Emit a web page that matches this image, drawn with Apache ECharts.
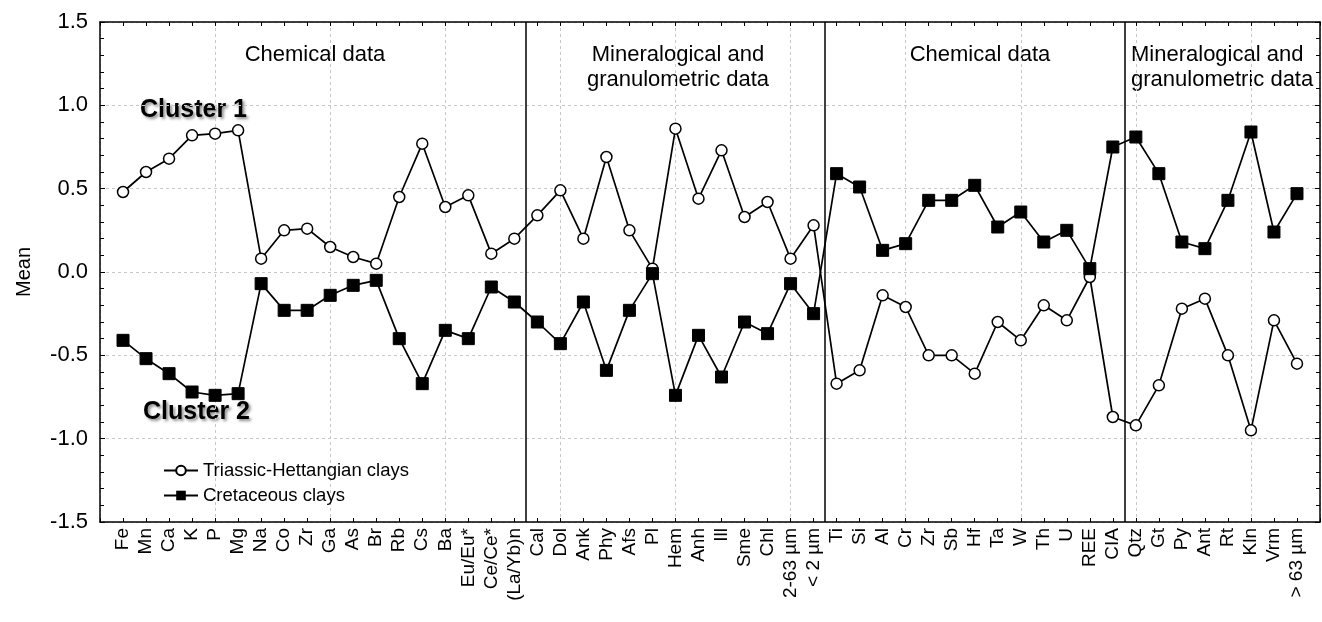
<!DOCTYPE html>
<html><head><meta charset="utf-8">
<script src="https://cdn.jsdelivr.net/npm/echarts@6/dist/echarts.min.js"></script>
<style>html,body{margin:0;padding:0;background:#fff}#c{width:1322px;height:622px}</style>
</head><body><div id="c"></div>
<script>
const categories = ['Fe','Mn','Ca','K','P','Mg','Na','Co','Zr','Ga','As','Br','Rb','Cs','Ba','Eu/Eu*','Ce/Ce*','(La/Yb)n',
  'Cal','Dol','Ank','Phy','Afs','Pl','Hem','Anh','Ill','Sme','Chl','2-63 µm','< 2 µm',
  'Ti','Si','Al','Cr','Zr','Sb','Hf','Ta','W','Th','U','REE','CIA',
  'Qtz','Gt','Py','Ant','Rt','Kln','Vrm','> 63 µm'];
const triassic = [0.48,0.60,0.68,0.82,0.83,0.85,0.08,0.25,0.26,0.15,0.09,0.05,0.45,0.77,0.39,0.46,0.11,0.20,
  0.34,0.49,0.20,0.69,0.25,0.02,0.86,0.44,0.73,0.33,0.42,0.08,0.28,
  -0.67,-0.59,-0.14,-0.21,-0.50,-0.50,-0.61,-0.30,-0.41,-0.20,-0.29,-0.03,-0.87,
  -0.92,-0.68,-0.22,-0.16,-0.50,-0.95,-0.29,-0.55];
const cretaceous = [-0.41,-0.52,-0.61,-0.72,-0.74,-0.73,-0.07,-0.23,-0.23,-0.14,-0.08,-0.05,-0.40,-0.67,-0.35,-0.40,-0.09,-0.18,
  -0.30,-0.43,-0.18,-0.59,-0.23,-0.01,-0.74,-0.38,-0.63,-0.30,-0.37,-0.07,-0.25,
  0.59,0.51,0.13,0.17,0.43,0.43,0.52,0.27,0.36,0.18,0.25,0.02,0.75,
  0.81,0.59,0.18,0.14,0.43,0.84,0.24,0.47];
const seriesNames = ['Triassic-Hettangian clays','Cretaceous clays'];
const yTicks = [-1.5,-1.0,-0.5,0.0,0.5,1.0,1.5];
const groupBounds = [18.5, 31.5, 44.5];
const groupTitles = ['Chemical data','Mineralogical and\ngranulometric data','Chemical data','Mineralogical and\ngranulometric data'];

const FONT = 'Arial, "Liberation Sans", sans-serif';
const chart = echarts.init(document.getElementById('c'), null, {renderer:'canvas'});
const pairs = arr => arr.map((v,i)=>[i+1, v]);
const xMax = categories.length + 1;

const gridLine = {show:true, lineStyle:{color:'#c8c8c8', type:[3,3], width:1}};
const blackLine = {show:true, onZero:false, lineStyle:{color:'#000', width:1.5}};
const titleStyle = {font:'22px '+FONT, fill:'#000', lineHeight:25, verticalAlign:'middle'};
const clusterStyle = {font:'bold 25px '+FONT, fill:'#000', verticalAlign:'middle',
  textShadowColor:'rgba(0,0,0,0.45)', textShadowBlur:3, textShadowOffsetX:2, textShadowOffsetY:2};

chart.setOption({
  animation:false,
  backgroundColor:'#fff',
  grid:{left:100, right:2, top:22, bottom:100},
  textStyle:{fontFamily:FONT},
  xAxis:[
    {type:'value', min:0, max:xMax, interval:1, position:'bottom', axisLine:blackLine,
     axisTick:{show:true, inside:true, length:4, lineStyle:{color:'#000'}},
     axisLabel:{show:true, rotate:90, margin:6, fontSize:19, color:'#000', fontFamily:FONT,
       padding:[6,0,0,0], formatter: v => categories[v-1] || ''},
     splitLine:{show:false}},
    {type:'value', min:0, max:xMax, interval:1, position:'top', axisLine:blackLine,
     axisTick:{show:true, inside:true, length:4, lineStyle:{color:'#000'}},
     axisLabel:{show:false}, splitLine:{show:false}},
    {type:'value', min:0, max:xMax, interval:5, position:'top', axisLine:{show:false},
     axisTick:{show:false}, axisLabel:{show:false}, splitLine:gridLine}
  ],
  yAxis:[
    {type:'value', min:yTicks[0], max:yTicks[yTicks.length-1], interval:0.5, position:'left',
     name:'Mean', nameLocation:'middle', nameGap:66, nameTextStyle:{fontSize:20, color:'#000', fontFamily:FONT},
     axisLine:blackLine, axisTick:{show:true, inside:true, length:5, lineStyle:{color:'#000'}},
     minorTick:{show:true, splitNumber:5, length:4, lineStyle:{color:'#000'}},
     axisLabel:{fontSize:22, color:'#000', margin:12, fontFamily:FONT, formatter: v => v.toFixed(1)},
     splitLine:gridLine},
    {type:'value', min:yTicks[0], max:yTicks[yTicks.length-1], interval:0.5, position:'right',
     axisLine:blackLine, axisTick:{show:true, inside:true, length:5, lineStyle:{color:'#000'}},
     minorTick:{show:true, splitNumber:5, length:4, lineStyle:{color:'#000'}},
     axisLabel:{show:false}, splitLine:{show:false}}
  ],
  legend:{
    orient:'vertical', left:158, top:456, itemWidth:34, itemHeight:12, itemGap:6,
    textStyle:{fontSize:18.5, color:'#000', fontFamily:FONT},
    data:seriesNames
  },
  series:[
    {name:seriesNames[0], type:'line', xAxisIndex:0, yAxisIndex:0, data:pairs(triassic),
     symbol:'circle', symbolSize:11, lineStyle:{color:'#000', width:1.7},
     itemStyle:{color:'#fff', borderColor:'#000', borderWidth:1.5}, z:3,
     markLine:{silent:true, symbol:'none', label:{show:false},
       lineStyle:{color:'#000', width:1.5, type:'solid'},
       data: groupBounds.map(b=>({xAxis:b}))}},
    {name:seriesNames[1], type:'line', xAxisIndex:0, yAxisIndex:0, data:pairs(cretaceous),
     symbol:'rect', symbolSize:12, lineStyle:{color:'#000', width:1.7},
     itemStyle:{color:'#000', borderColor:'#000'}, z:4}
  ],
  graphic:[
    {type:'text', x:315, y:55, style:Object.assign({text:groupTitles[0], align:'center'}, titleStyle)},
    {type:'text', x:678, y:67.5, style:Object.assign({text:groupTitles[1], align:'center'}, titleStyle)},
    {type:'text', x:980, y:55, style:Object.assign({text:groupTitles[2], align:'center'}, titleStyle)},
    {type:'text', x:1131, y:67.5, style:Object.assign({text:groupTitles[3], align:'left'}, titleStyle)},
    {type:'text', x:140, y:110, style:Object.assign({text:'Cluster 1', align:'left'}, clusterStyle)},
    {type:'text', x:143, y:412, style:Object.assign({text:'Cluster 2', align:'left'}, clusterStyle)}
  ]
});
</script>
</body></html>
